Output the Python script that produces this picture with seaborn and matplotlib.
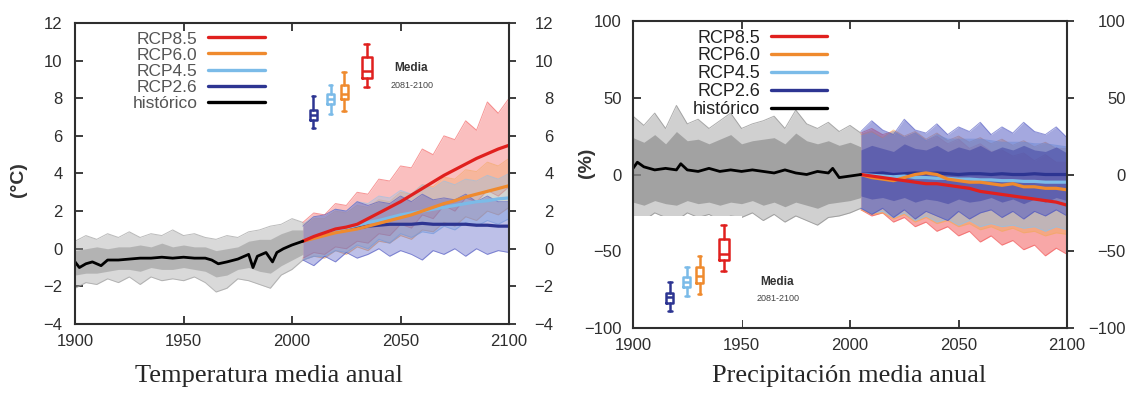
import numpy as np
import pandas as pd
import matplotlib
matplotlib.use('Agg')
import matplotlib.pyplot as plt
from matplotlib.lines import Line2D
from matplotlib.patches import Rectangle
import seaborn as sns

FIGURE_SIZE = (11.3, 3.94)
FIGURE_DPI = 100

SCENARIOS = ['RCP8.5', 'RCP6.0', 'RCP4.5', 'RCP2.6']
LINE_COLORS = {'RCP8.5': '#e0201e', 'RCP6.0': '#ef8a2e', 'RCP4.5': '#7bbbe8',
               'RCP2.6': '#2d3592', 'histórico': '#000000'}
BAND_COLORS = {'RCP8.5': '#f25050', 'RCP6.0': '#f3a860', 'RCP4.5': '#8cc2ec',
               'RCP2.6': '#4a52c0'}

# x positions of the envelopes (every 5 years)
hist_band_years = list(range(1900, 2006, 5))
fut_years = list(range(2005, 2101, 5))

# ---------------- temperature (ºC) ----------------
tas_hist_years = [1900, 1902, 1905, 1908, 1912, 1915, 1920, 1925, 1930, 1935, 1940, 1945, 1950,
                  1955, 1960, 1963, 1966, 1970, 1975, 1980, 1982, 1984, 1988, 1991, 1993, 1996, 2000, 2005]
tas_hist_mean = [-0.7, -1.0, -0.8, -0.7, -0.9, -0.6, -0.6, -0.55, -0.5, -0.5, -0.45, -0.5, -0.45,
                 -0.5, -0.5, -0.6, -0.8, -0.7, -0.55, -0.3, -1.0, -0.4, -0.2, -0.7, -0.2, 0.0, 0.2, 0.4]
tas_hist_lo = [-2.1, -1.8, -1.9, -1.6, -1.8, -1.5, -1.9, -1.5, -1.7, -1.6, -1.7,
               -1.5, -1.8, -2.3, -2.1, -1.6, -1.7, -1.9, -2.1, -1.4, -1.1, -0.6]
tas_hist_hi = [0.4, 0.7, 0.5, 0.8, 0.6, 0.9, 0.6, 0.8, 0.7, 1.0, 0.7,
               0.8, 0.6, 0.5, 0.7, 0.6, 0.9, 1.0, 1.2, 1.3, 1.6, 1.4]
tas_hist_lo_in = [-1.4, -1.3, -1.3, -1.2, -1.1, -1.1, -1.2, -1.0, -1.1, -1.1, -1.0,
                  -1.1, -1.2, -1.5, -1.4, -1.1, -1.0, -1.2, -1.3, -0.9, -0.6, -0.3]
tas_hist_hi_in = [-0.1, 0.0, 0.1, 0.0, 0.1, 0.1, 0.2, 0.1, 0.3, 0.1, 0.2,
                  0.1, 0.1, -0.1, 0.0, 0.1, 0.4, 0.5, 0.5, 0.8, 1.0, 1.0]

tas_mean = {
    'RCP8.5': [0.4, 0.65, 0.85, 1.05, 1.15, 1.3, 1.6, 1.9, 2.2, 2.5, 2.85, 3.2, 3.55, 3.9, 4.2, 4.5, 4.8, 5.05, 5.3, 5.5],
    'RCP6.0': [0.4, 0.55, 0.7, 0.85, 0.95, 1.05, 1.2, 1.35, 1.5, 1.65, 1.8, 2.0, 2.2, 2.4, 2.55, 2.75, 2.9, 3.05, 3.2, 3.35],
    'RCP4.5': [0.4, 0.6, 0.8, 0.95, 1.1, 1.25, 1.4, 1.5, 1.65, 1.8, 1.9, 2.0, 2.1, 2.2, 2.3, 2.4, 2.5, 2.55, 2.65, 2.7],
    'RCP2.6': [0.4, 0.6, 0.8, 0.9, 1.0, 1.1, 1.2, 1.25, 1.3, 1.3, 1.3, 1.35, 1.3, 1.3, 1.3, 1.3, 1.25, 1.25, 1.2, 1.2],
}
tas_lo = {
    'RCP8.5': [-0.5, -0.2, -0.3, 0.1, 0.0, 0.4, 0.3, 0.8, 0.7, 1.3, 1.1, 1.8, 1.6, 2.3, 2.0, 2.7, 2.5, 3.1, 2.8, 3.3],
    'RCP6.0': [-0.6, -0.4, -0.5, -0.1, -0.3, 0.1, -0.1, 0.4, 0.3, 0.7, 0.5, 1.0, 0.9, 1.4, 1.2, 1.7, 1.5, 2.0, 1.8, 2.2],
    'RCP4.5': [-0.6, -0.4, -0.4, -0.1, -0.2, 0.2, 0.0, 0.5, 0.3, 0.8, 0.6, 0.9, 0.8, 1.2, 1.0, 1.4, 1.2, 1.5, 1.3, 1.6],
    'RCP2.6': [-0.6, -0.9, -0.4, -0.7, -0.2, -0.5, -0.3, 0.0, -0.4, -0.1, -0.3, -0.6, -0.1, -0.3, 0.0, -0.4, 0.0, -0.3, -0.1, -0.2],
}
tas_hi = {
    'RCP8.5': [1.4, 1.9, 1.8, 2.4, 2.3, 3.0, 2.9, 3.7, 3.6, 4.4, 4.3, 5.3, 5.0, 6.0, 5.8, 6.8, 6.3, 7.8, 7.2, 8.0],
    'RCP6.0': [1.3, 1.6, 1.6, 2.0, 1.9, 2.3, 2.2, 2.6, 2.5, 3.0, 2.9, 3.4, 3.3, 3.8, 3.7, 4.2, 4.1, 4.6, 4.4, 4.8],
    'RCP4.5': [1.3, 1.7, 1.7, 2.1, 2.0, 2.5, 2.4, 2.8, 2.7, 3.1, 2.9, 3.4, 3.2, 3.6, 3.4, 3.7, 3.6, 3.9, 3.7, 4.0],
    'RCP2.6': [1.2, 1.7, 1.8, 2.1, 2.0, 2.5, 2.3, 2.5, 2.4, 2.8, 2.5, 2.9, 2.6, 2.7, 2.6, 2.9, 2.5, 2.8, 2.5, 2.5],
}

# boxes "Media 2081-2100" (order: RCP2.6, RCP4.5, RCP6.0, RCP8.5)
box_names = ['RCP2.6', 'RCP4.5', 'RCP6.0', 'RCP8.5']
tas_box_x = [2009.8, 2017.8, 2024.0, 2034.4]
tas_box_med = [7.1, 7.95, 8.25, 9.45]
tas_box_q1 = [6.85, 7.7, 7.95, 9.1]
tas_box_q3 = [7.35, 8.2, 8.7, 10.2]
tas_box_lo = [6.4, 7.15, 7.3, 8.6]
tas_box_hi = [8.1, 8.7, 9.4, 10.9]

# ---------------- precipitation (%) ----------------
pr_hist_years = [1900, 1902, 1905, 1910, 1915, 1920, 1922, 1925, 1930, 1935, 1940, 1945, 1950,
                 1955, 1960, 1965, 1970, 1975, 1980, 1985, 1990, 1992, 1995, 2000, 2005]
pr_hist_mean = [4, 8, 5, 3, 4, 3, 7, 3, 2, 4, 2, 3, 2, 3, 2, 1, 3, 1, 0, 2, 1, 4, -2, -1, 0]
pr_hist_lo = [-27, -30, -25, -28, -30, -25, -28, -26, -30, -27, -28,
              -25, -30, -26, -31, -27, -30, -33, -28, -27, -25, -22]
pr_hist_hi = [38, 32, 40, 30, 45, 33, 36, 30, 35, 40, 30,
              33, 35, 38, 30, 42, 33, 30, 34, 28, 32, 27]
pr_hist_lo_in = [-18, -20, -17, -19, -20, -17, -19, -18, -20, -18, -19,
                 -17, -20, -18, -21, -18, -20, -22, -19, -18, -17, -15]
pr_hist_hi_in = [24, 21, 26, 20, 28, 22, 23, 20, 23, 26, 20,
                 22, 23, 24, 20, 27, 22, 20, 22, 19, 21, 18]

pr_mean = {
    'RCP8.5': [0, -1, -2, -3, -4, -5, -6, -6, -7, -8, -9, -11, -12, -13, -14, -15, -16, -17, -18, -20],
    'RCP6.0': [0, -2, -3, -4, -2, 0, 1, 0, -3, -4, -5, -5, -6, -7, -6, -8, -8, -9, -9, -10],
    'RCP4.5': [0, -0.5, -1, -1.5, -1, -2, -2, -2.5, -2.5, -3, -3, -3.5, -3.5, -4, -4, -4.5, -4.5, -5, -5, -5],
    'RCP2.6': [0, 0.5, 1, 0, 0.5, 1, 0.5, 1, 0.5, 0, 0.5, 0.5, 0, 0.5, 0, 0, 0.5, 0, 0, 0],
}
pr_lo = {
    'RCP8.5': [-23, -27, -25, -31, -28, -34, -31, -37, -34, -40, -37, -44, -40, -46, -43, -49, -46, -53, -48, -52],
    'RCP6.0': [-23, -26, -25, -29, -26, -31, -28, -32, -30, -34, -32, -36, -34, -37, -35, -38, -37, -40, -38, -39],
    'RCP4.5': [-22, -25, -24, -28, -25, -30, -27, -31, -29, -33, -30, -34, -32, -34, -33, -35, -34, -37, -34, -36],
    'RCP2.6': [-22, -26, -22, -28, -23, -29, -24, -27, -30, -24, -29, -25, -23, -28, -24, -29, -24, -27, -23, -27],
}
pr_hi = {
    'RCP8.5': [27, 30, 26, 28, 24, 27, 22, 25, 20, 23, 17, 20, 15, 16, 12, 14, 9, 13, 8, 8],
    'RCP6.0': [26, 28, 24, 29, 25, 28, 23, 27, 22, 25, 21, 24, 20, 23, 19, 22, 18, 21, 17, 17],
    'RCP4.5': [25, 27, 23, 28, 24, 27, 22, 26, 23, 23, 23, 23, 22, 21, 21, 21, 20, 20, 19, 18],
    'RCP2.6': [28, 35, 29, 26, 36, 29, 27, 33, 26, 31, 28, 34, 26, 31, 27, 34, 28, 26, 31, 24],
}
# dense core of the future precipitation runs
pr_core_lo = [-14, -16, -15, -17, -15, -18, -16, -17, -19, -16, -18, -17, -15, -18, -16, -19, -16, -18, -15, -17]
pr_core_hi = [16, 19, 17, 15, 20, 17, 16, 19, 15, 18, 16, 19, 15, 18, 16, 19, 16, 15, 18, 14]

pr_box_x = [1917.0, 1924.8, 1930.7, 1941.7]
pr_box_med = [-80, -70, -66, -52]
pr_box_q1 = [-83.5, -73, -71, -56]
pr_box_q3 = [-77, -67, -60, -42]
pr_box_lo = [-89, -79, -78, -63]
pr_box_hi = [-70, -60, -53, -33]

TICK_COLOR = '#2e2e2e'


def draw_panel(ax, hist_years, hist_mean, h_lo, h_hi, h_lo_in, h_hi_in,
               means, los, his, box_x, box_med, box_q1, box_q3, box_lo, box_hi,
               ylim, yticks, media_xy, hist_gray, band_alpha):
    # historical envelope
    ax.fill_between(hist_band_years, h_lo, h_hi, color=hist_gray, alpha=0.4, lw=0, zorder=1)
    ax.plot(hist_band_years, h_lo, color=hist_gray, lw=0.7, alpha=0.7, zorder=1)
    ax.plot(hist_band_years, h_hi, color=hist_gray, lw=0.7, alpha=0.7, zorder=1)
    ax.fill_between(hist_band_years, h_lo_in, h_hi_in, color=hist_gray, alpha=0.65, lw=0, zorder=1)

    # scenario envelopes, red underneath, blue on top
    for sc in SCENARIOS:
        ax.fill_between(fut_years, los[sc], his[sc], color=BAND_COLORS[sc], alpha=band_alpha, lw=0, zorder=2)
        ax.plot(fut_years, los[sc], color=BAND_COLORS[sc], lw=0.7, alpha=0.6, zorder=2)
        ax.plot(fut_years, his[sc], color=BAND_COLORS[sc], lw=0.7, alpha=0.6, zorder=2)

    # ensemble means
    for sc in ['RCP2.6', 'RCP4.5', 'RCP6.0', 'RCP8.5']:
        sns.lineplot(x=fut_years, y=means[sc], ax=ax, color=LINE_COLORS[sc], lw=2.3, zorder=4)
    sns.lineplot(x=hist_years, y=hist_mean, ax=ax, color='black', lw=2.0, zorder=4)

    # boxes of the 2081-2100 mean
    for i, name in enumerate(box_names):
        c = LINE_COLORS[name]
        st = {'med': box_med[i], 'q1': box_q1[i], 'q3': box_q3[i],
              'whislo': box_lo[i], 'whishi': box_hi[i], 'fliers': []}
        w = 4.6 if name == 'RCP8.5' else 3.2
        ax.bxp([st], positions=[box_x[i]], widths=w, showfliers=False,
               boxprops=dict(color=c, lw=1.8), medianprops=dict(color=c, lw=1.8),
               whiskerprops=dict(color=c, lw=1.8), capprops=dict(color=c, lw=1.8),
               manage_ticks=False, zorder=6)
    ax.text(media_xy[0], media_xy[1], 'Media', ha='center', va='center',
            fontsize=8.5, fontweight='bold', color='#333333', zorder=7)
    ax.text(media_xy[2], media_xy[3], '2081-2100', ha='center', va='center',
            fontsize=6.5, color='#444444', zorder=7)

    ax.set_xlim(1900, 2100)
    ax.set_ylim(*ylim)
    ax.set_xticks([1900, 1950, 2000, 2050, 2100])
    ax.set_yticks(yticks)
    ax.set_xlabel('')
    ax.set_ylabel('')
    ax.tick_params(axis='both', direction='in', length=6, width=1.3, top=True, bottom=True,
                   left=True, right=False, labelsize=12, colors=TICK_COLOR)
    ax.tick_params(axis='x', pad=7)
    for s in ax.spines.values():
        s.set_color(TICK_COLOR)
        s.set_linewidth(1.5)
        s.set_zorder(10)


def add_legend(ax, anchor, fontsize, text_color, handlelength):
    labels = SCENARIOS + ['histórico']
    handles = [Line2D([0], [0], color=LINE_COLORS[k], lw=2.4) for k in labels]
    leg = ax.legend(handles, labels, loc='upper left', bbox_to_anchor=anchor,
                    frameon=False, markerfirst=False, fontsize=fontsize,
                    handlelength=handlelength, handletextpad=0.6,
                    labelspacing=0.05, borderpad=0, borderaxespad=0)
    leg.set_zorder(8)
    for t in leg.get_texts():
        t.set_color(text_color)
        t.set_ha('right')


sns.set_style('ticks')
plt.rcParams['font.family'] = ['Liberation Sans', 'DejaVu Sans']

fig = plt.figure(figsize=FIGURE_SIZE, dpi=FIGURE_DPI)
ax1 = fig.add_axes([0.0664, 0.1777, 0.3841, 0.7640])
ax2 = fig.add_axes([0.5602, 0.1675, 0.3841, 0.7792])

draw_panel(ax1, tas_hist_years, tas_hist_mean, tas_hist_lo, tas_hist_hi, tas_hist_lo_in, tas_hist_hi_in,
           tas_mean, tas_lo, tas_hi, tas_box_x, tas_box_med, tas_box_q1, tas_box_q3, tas_box_lo, tas_box_hi,
           (-4, 12), list(range(-4, 13, 2)), (2055, 9.6, 2055.5, 8.7), '#a0a0a0', 0.36)
add_legend(ax1, (0.132, 0.972), 12.5, '#555555', 3.3)

# white inset behind the precipitation boxes
ax2.add_patch(Rectangle((1900, -100), 50, 73, facecolor='white', edgecolor='none', zorder=3))
ax2.fill_between(fut_years, pr_core_lo, pr_core_hi, color='#34389f', alpha=0.45, lw=0, zorder=2.5)
draw_panel(ax2, pr_hist_years, pr_hist_mean, pr_hist_lo, pr_hist_hi, pr_hist_lo_in, pr_hist_hi_in,
           pr_mean, pr_lo, pr_hi, pr_box_x, pr_box_med, pr_box_q1, pr_box_q3, pr_box_lo, pr_box_hi,
           (-100, 100), [-100, -50, 0, 50, 100], (1966.5, -70, 1967, -80.5), '#8a8a8a', 0.5)
add_legend(ax2, (0.138, 0.972), 13, '#222222', 3.1)

# right-hand y axes, labels right aligned
for ax, pad in [(ax1, 27), (ax2, 37)]:
    tw = ax.twinx()
    tw.set_ylim(ax.get_ylim())
    tw.set_yticks(ax.get_yticks())
    tw.tick_params(axis='y', direction='out', length=5, width=1.3, pad=pad, right=True,
                   labelright=True, labelsize=12, colors=TICK_COLOR)
    for lab in tw.get_yticklabels():
        lab.set_ha('right')
    for s in tw.spines.values():
        s.set_visible(False)
ax1.tick_params(axis='y', pad=9)
ax2.tick_params(axis='y', pad=8)

fig.text(18 / 1130, 1 - 180 / 394, '(°C)', rotation=90, ha='center', va='center',
         fontsize=14, fontweight='bold', color='#333333')
fig.text(587 / 1130, 1 - 163 / 394, '(%)', rotation=90, ha='center', va='center',
         fontsize=14, fontweight='bold', color='#333333')

fig.text(269 / 1130, 1 - 382 / 394, 'Temperatura media anual', ha='center', va='baseline',
         fontsize=19, family=['Liberation Serif', 'DejaVu Serif'])
fig.text(849 / 1130, 1 - 382 / 394, 'Precipitación media anual', ha='center', va='baseline',
         fontsize=19, family=['Liberation Serif', 'DejaVu Serif'])

fig.savefig('out.png', dpi=FIGURE_DPI)
